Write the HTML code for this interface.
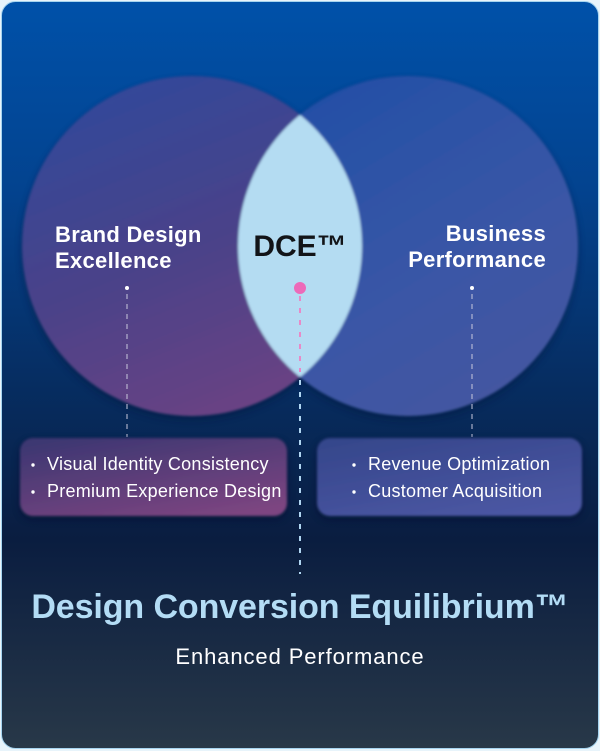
<!DOCTYPE html>
<html><head><meta charset="utf-8"><style>
html,body{margin:0;padding:0;background:#e8f4fb;}
body{width:600px;height:751px;overflow:hidden;}
svg{display:block;}
text{font-family:"Liberation Sans",Arial,sans-serif;}
</style></head><body>
<svg width="600" height="751" viewBox="0 0 600 751" xmlns="http://www.w3.org/2000/svg">
<defs>
<linearGradient id="bg" x1="0" y1="0" x2="0" y2="1">
<stop offset="0" stop-color="#0051a9"/>
<stop offset="0.25" stop-color="#03438f"/>
<stop offset="0.5" stop-color="#062e63"/>
<stop offset="0.72" stop-color="#0a1d40"/>
<stop offset="1" stop-color="#283848"/>
</linearGradient>
<linearGradient id="lc" x1="0.3" y1="0" x2="0.7" y2="1">
<stop offset="0" stop-color="#32489a"/>
<stop offset="0.5" stop-color="#4a4289"/>
<stop offset="1" stop-color="#6c4283"/>
</linearGradient>
<linearGradient id="rc" x1="0.2" y1="0" x2="0.8" y2="1">
<stop offset="0" stop-color="#214fa6"/>
<stop offset="0.6" stop-color="#3a56a6"/>
<stop offset="1" stop-color="#4656a0"/>
</linearGradient>
<linearGradient id="lb" x1="0.2" y1="0" x2="0.8" y2="1">
<stop offset="0" stop-color="#3e3772"/>
<stop offset="1" stop-color="#7d4581"/>
</linearGradient>
<linearGradient id="rb" x1="0.2" y1="0" x2="0.8" y2="1">
<stop offset="0" stop-color="#36478c"/>
<stop offset="1" stop-color="#4c57a4"/>
</linearGradient>
<clipPath id="clipL"><circle cx="192" cy="246" r="170"/></clipPath>
<filter id="soft" x="-10%" y="-10%" width="120%" height="120%"><feGaussianBlur stdDeviation="1.3"/></filter>
<filter id="sh" x="-20%" y="-20%" width="140%" height="140%"><feGaussianBlur stdDeviation="4"/></filter>
</defs>
<rect x="1.5" y="1.5" width="597" height="747" rx="14" fill="url(#bg)" stroke="#a6d4ef" stroke-width="1"/>

<!-- circles -->
<circle cx="192" cy="250" r="170" fill="#04163a" opacity="0.45" filter="url(#sh)"/>
<circle cx="408" cy="250" r="170" fill="#04163a" opacity="0.45" filter="url(#sh)"/>
<g filter="url(#soft)">
<circle cx="192" cy="246" r="170" fill="url(#lc)"/>
<circle cx="408" cy="246" r="170" fill="url(#rc)"/>
<circle cx="408" cy="246" r="170" fill="#b4dcf2" clip-path="url(#clipL)"/>
</g>

<!-- labels -->
<text x="55" y="242" font-size="22" font-weight="bold" fill="#ffffff" letter-spacing="0.3">Brand Design</text>
<text x="55" y="268" font-size="22" font-weight="bold" fill="#ffffff" letter-spacing="0.3">Excellence</text>
<text x="546" y="241" font-size="22" font-weight="bold" fill="#ffffff" text-anchor="end" letter-spacing="0.3">Business</text>
<text x="546" y="267" font-size="22" font-weight="bold" fill="#ffffff" text-anchor="end" letter-spacing="0.3">Performance</text>
<text x="300" y="256" font-size="30" font-weight="bold" fill="#121418" text-anchor="middle">DCE™</text>

<!-- connectors -->
<circle cx="127" cy="288" r="2" fill="#ffffff"/>
<line x1="127" y1="294" x2="127" y2="437" stroke="#c8c8dc" stroke-width="1" stroke-dasharray="5 5"/>
<circle cx="472" cy="288" r="2" fill="#ffffff"/>
<line x1="472" y1="294" x2="472" y2="437" stroke="#c8c8dc" stroke-width="1" stroke-dasharray="5 5"/>
<circle cx="300" cy="288" r="6" fill="#ec6ab9"/>
<line x1="300" y1="296" x2="300" y2="372" stroke="#e88ac8" stroke-width="2" stroke-dasharray="5 7"/>
<line x1="300" y1="380" x2="300" y2="574" stroke="#b0d6f2" stroke-width="2" stroke-dasharray="5 7"/>

<!-- boxes -->
<rect x="20" y="441" width="267" height="78" rx="13" fill="#050f2a" opacity="0.5" filter="url(#sh)"/>
<rect x="317" y="441" width="265" height="78" rx="13" fill="#050f2a" opacity="0.5" filter="url(#sh)"/>
<g filter="url(#soft)">
<rect x="20" y="438" width="267" height="78" rx="13" fill="url(#lb)"/>
<rect x="317" y="438" width="265" height="78" rx="13" fill="url(#rb)"/>
</g>
<circle cx="33" cy="465" r="1.7" fill="#ffffff"/>
<circle cx="33" cy="492" r="1.7" fill="#ffffff"/>
<text x="47" y="470" font-size="18" fill="#ffffff" letter-spacing="0.26">Visual Identity Consistency</text>
<text x="47" y="497" font-size="18" fill="#ffffff" letter-spacing="0.26">Premium Experience Design</text>
<circle cx="354" cy="465" r="1.7" fill="#ffffff"/>
<circle cx="354" cy="492" r="1.7" fill="#ffffff"/>
<text x="368" y="470" font-size="18" fill="#ffffff" letter-spacing="0.26">Revenue Optimization</text>
<text x="368" y="497" font-size="18" fill="#ffffff" letter-spacing="0.26">Customer Acquisition</text>

<!-- title -->
<text x="300" y="618" font-size="34" font-weight="bold" fill="#b3dcf5" text-anchor="middle" letter-spacing="-0.1">Design Conversion Equilibrium™</text>
<text x="300" y="664" font-size="22" fill="#ffffff" text-anchor="middle" letter-spacing="0.9">Enhanced Performance</text>
</svg>
</body></html>
